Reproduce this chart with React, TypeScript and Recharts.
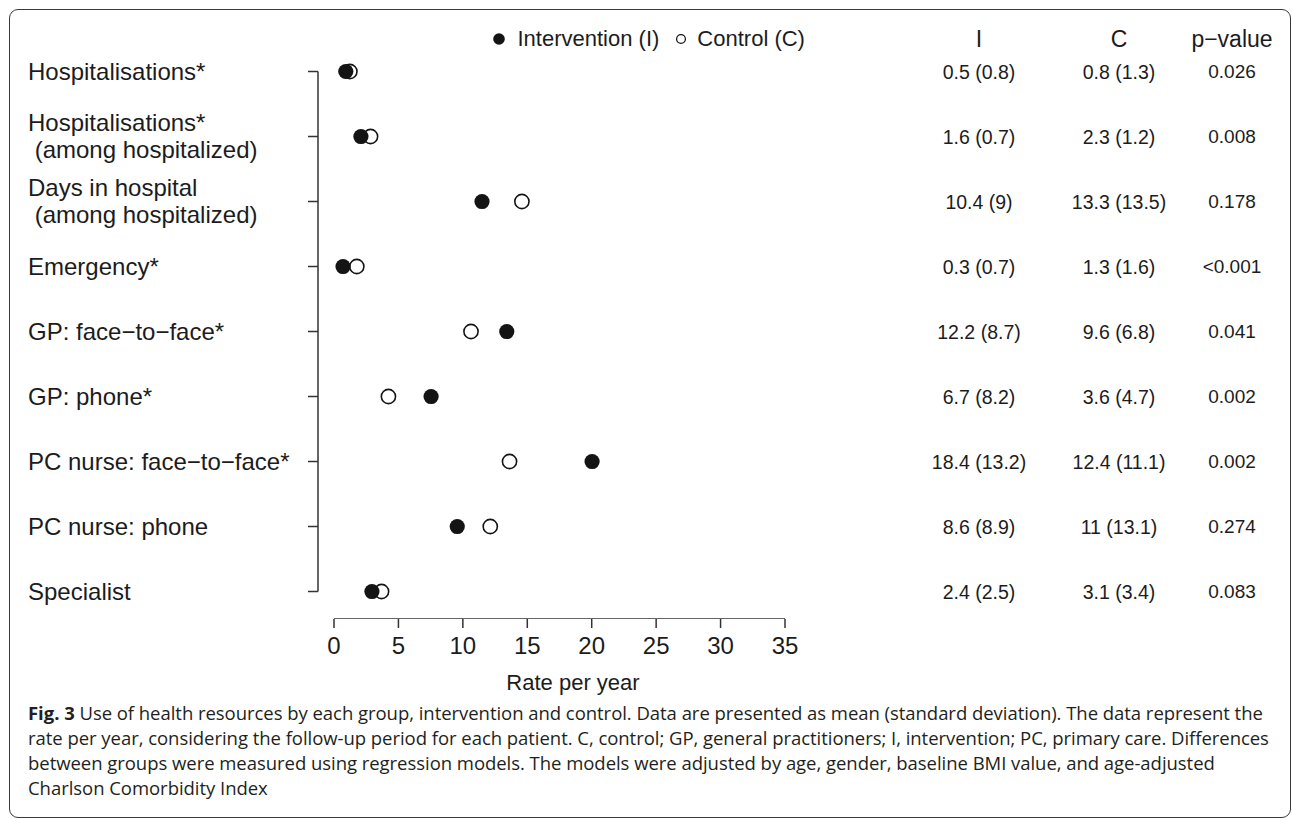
import React from "react";
import { ScatterChart, Scatter, XAxis, YAxis, ReferenceLine, Legend } from "recharts";

// ---- data ----
const categories = [
  "Hospitalisations*",
  "Hospitalisations*\n (among hospitalized)",
  "Days in hospital\n (among hospitalized)",
  "Emergency*",
  "GP: face\u2212to\u2212face*",
  "GP: phone*",
  "PC nurse: face\u2212to\u2212face*",
  "PC nurse: phone",
  "Specialist",
];
const interventionMean = [0.5, 1.6, 10.4, 0.3, 12.2, 6.7, 18.4, 8.6, 2.4];
const controlMean = [0.8, 2.3, 13.3, 1.3, 9.6, 3.6, 12.4, 11, 3.1];
const interventionCol = ["0.5 (0.8)", "1.6 (0.7)", "10.4 (9)", "0.3 (0.7)", "12.2 (8.7)", "6.7 (8.2)", "18.4 (13.2)", "8.6 (8.9)", "2.4 (2.5)"];
const controlCol = ["0.8 (1.3)", "2.3 (1.2)", "13.3 (13.5)", "1.3 (1.6)", "9.6 (6.8)", "3.6 (4.7)", "12.4 (11.1)", "11 (13.1)", "3.1 (3.4)"];
const pValues = ["0.026", "0.008", "0.178", "<0.001", "0.041", "0.002", "0.002", "0.274", "0.083"];
const tableHeaders = ["I", "C", "p\u2212value"];
const xTicks = [0, 5, 10, 15, 20, 25, 30, 35];
const seriesNames = ["Intervention (I)", "Control (C)"];

const captionLines = [
  "Use of health resources by each group, intervention and control. Data are presented as mean (standard deviation). The data represent the",
  "rate per year, considering the follow-up period for each patient. C, control; GP, general practitioners; I, intervention; PC, primary care. Differences",
  "between groups were measured using regression models. The models were adjusted by age, gender, baseline BMI value, and age-adjusted",
  "Charlson Comorbidity Index",
];

// ---- layout ----
const W = 1292;
const H = 820;
const FONT = "'Liberation Sans', Arial, Helvetica, sans-serif";
const INK = "#1c1c1c";
const AXIS = "#333";

const rows = categories.map((_, i) => i + 1);
const Y_MAX = 9.423; // row units, plot bottom = x axis line
// the drawn x axis and the plotted points use slightly different scales in the original
const AXIS_DOMAIN: [number, number] = [-1.2417, 38.337];
const PTS_DOMAIN: [number, number] = [-1.519, 35.545];

const interventionPts = interventionMean.map((v, i) => ({ x: v, y: i + 1 }));
const controlPts = controlMean.map((v, i) => ({ x: v, y: i + 1 }));
const axisBaseline = [xTicks[0], xTicks[xTicks.length - 1]].map((x) => ({ x, y: Y_MAX }));

const LABEL_X = 28;
const COL_X = [979, 1119, 1232];

const FilledDot = (p: any) => <circle cx={p.cx} cy={p.cy} r={7.6} fill="#141414" />;
const OpenDot = (p: any) => <circle cx={p.cx} cy={p.cy} r={7.1} fill="none" stroke="#141414" strokeWidth={1.6} />;
const NoDot = () => <g />;

const CategoryTick = (props: any) => {
  const { y, payload } = props;
  const lines = categories[Math.round(payload.value) - 1].split("\n");
  const n = lines.length;
  return (
    <g>
      {lines.map((line, k) => (
        <text
          key={k}
          x={LABEL_X + (line.startsWith(" ") ? 6.7 : 0)}
          y={y + 8 + (k - (n - 1) / 2) * 27.5}
          fontSize={24}
          fontFamily={FONT}
          fill={INK}
        >
          {line.trim()}
        </text>
      ))}
    </g>
  );
};

const TableTick = (props: any) => {
  const { y, payload } = props;
  const v = payload.value;
  if (v < 1) {
    return (
      <g>
        {tableHeaders.map((h, k) => (
          <text key={k} x={COL_X[k]} y={y} dy="0.36em" textAnchor="middle" fontSize={23} fontFamily={FONT} fill={INK}>
            {h}
          </text>
        ))}
      </g>
    );
  }
  const i = Math.round(v) - 1;
  const cells = [interventionCol[i], controlCol[i], pValues[i]];
  return (
    <g>
      {cells.map((c, k) => (
        <text key={k} x={COL_X[k]} y={y} dy="0.36em" textAnchor="middle" fontSize={k === 2 ? 19 : 19.5} fontFamily={FONT} fill={INK}>
          {c}
        </text>
      ))}
    </g>
  );
};

const LegendContent = () => (
  <div style={{ display: "flex", alignItems: "center", height: 26, lineHeight: "26px", fontSize: 22, fontFamily: FONT, color: INK, whiteSpace: "nowrap" }}>
    <svg width={14} height={14}>
      <circle cx={7} cy={7} r={5.8} fill="#141414" />
    </svg>
    <span style={{ marginLeft: 12 }}>{seriesNames[0]}</span>
    <svg width={12} height={12} style={{ marginLeft: 16 }}>
      <circle cx={6} cy={6} r={4.4} fill="none" stroke="#141414" strokeWidth={1.3} />
    </svg>
    <span style={{ marginLeft: 10 }}>{seriesNames[1]}</span>
  </div>
);

export default function App() {
  return (
    <div style={{ position: "absolute", left: 0, top: 0, width: W, height: H, background: "#fff", overflow: "hidden" }}>
      <div
        style={{
          position: "absolute",
          left: 9,
          top: 9,
          width: 1282,
          height: 809,
          border: "1.5px solid #3a3a3a",
          borderRadius: 9,
          boxSizing: "border-box",
        }}
      />
      <div style={{ position: "absolute", left: 0, top: 0 }}>
        <ScatterChart width={W} height={H} margin={{ top: 6.5, right: 0, bottom: 125, left: 18 }}>
          <XAxis
            xAxisId="axis"
            type="number"
            dataKey="x"
            domain={AXIS_DOMAIN}
            allowDataOverflow
            ticks={xTicks}
            interval={0}
            axisLine={false}
            tickLine={{ stroke: AXIS, strokeWidth: 1.5 }}
            tickSize={9}
            tickMargin={9}
            tick={{ fontSize: 24, fontFamily: FONT, fill: INK }}
            height={76}
            label={{ value: "Rate per year", position: "insideBottom", offset: 5, fontSize: 22, fontFamily: FONT, fill: INK }}
          />
          <XAxis xAxisId="pts" type="number" dataKey="x" domain={PTS_DOMAIN} allowDataOverflow hide />
          <YAxis
            yAxisId="main"
            type="number"
            dataKey="y"
            domain={[0, Y_MAX]}
            allowDataOverflow
            reversed
            ticks={rows}
            interval={0}
            width={300}
            axisLine={false}
            tickLine={{ stroke: AXIS, strokeWidth: 1.5 }}
            tickSize={10}
            tick={<CategoryTick />}
          />
          <YAxis
            yAxisId="table"
            orientation="right"
            type="number"
            domain={[0, Y_MAX]}
            allowDataOverflow
            reversed
            ticks={[0.5, ...rows]}
            interval={0}
            width={464}
            axisLine={false}
            tickLine={false}
            tick={<TableTick />}
          />
          {/* x axis line, drawn only between the first and last tick */}
          <Scatter
            data={axisBaseline}
            xAxisId="axis"
            yAxisId="main"
            line={{ stroke: AXIS, strokeWidth: 1.5 }}
            shape={NoDot}
            legendType="none"
            isAnimationActive={false}
          />
          <ReferenceLine
            xAxisId="axis"
            yAxisId="main"
            segment={[{ x: AXIS_DOMAIN[0], y: rows[0] }, { x: AXIS_DOMAIN[0], y: rows[rows.length - 1] }]}
            stroke={AXIS}
            strokeWidth={1.5}
            ifOverflow="visible"
          />
          <Scatter name={seriesNames[1]} data={controlPts} xAxisId="pts" yAxisId="main" shape={OpenDot} isAnimationActive={false} />
          <Scatter name={seriesNames[0]} data={interventionPts} xAxisId="pts" yAxisId="main" shape={FilledDot} isAnimationActive={false} />
          <Legend
            layout="horizontal"
            verticalAlign="middle"
            content={LegendContent}
            wrapperStyle={{ position: "absolute", top: 26, left: 491.5, width: "auto" }}
          />
        </ScatterChart>
      </div>
      <div
        style={{
          position: "absolute",
          left: 28,
          top: 700,
          fontFamily: "'Open Sans', 'Noto Sans', sans-serif",
          fontSize: 18.5,
          letterSpacing: -0.04,
          lineHeight: "25px",
          color: "#231f20",
          whiteSpace: "nowrap",
        }}
      >
        {captionLines.map((line, i) => (
          <div key={i}>
            {i === 0 && <b style={{ fontWeight: 700 }}>Fig. 3 </b>}
            {line}
          </div>
        ))}
      </div>
    </div>
  );
}
